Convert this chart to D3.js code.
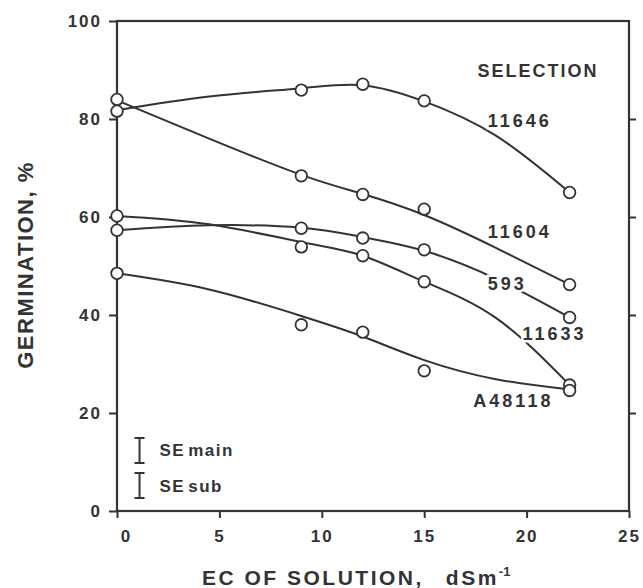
<!DOCTYPE html>
<html>
<head>
<meta charset="utf-8">
<script src="https://cdn.jsdelivr.net/npm/d3@7"></script>
<style>
  body { margin: 0; background: #fff; }
  svg { display: block; }
  text { font-family: "Liberation Sans", Arial, sans-serif; font-weight: bold; fill: #333; }
</style>
</head>
<body>
<div id="chart"></div>
<script>
// EC of solution (dS/m) at which germination was counted
const ecLevels = [0, 9, 12, 15, 22.1];

// germination % per selection (circles)
const selectionNames = ["11646", "11604", "593", "11633", "A48118"];
const germ11646 = [81.6, 85.9, 87.1, 83.7, 65.0];
const germ11604 = [84.0, 68.4, 64.6, 61.6, 46.2];
const germ593 = [57.3, 57.7, 55.7, 53.3, 39.5];
const germ11633 = [60.2, 53.9, 52.1, 46.8, 25.7];
const germA48118 = [48.5, 38.0, 36.5, 28.6, 24.6];

// smoothed response curves
const curveEc = [0, 4.5, 9, 12, 15, 18.5, 22.1];
const curve11646 = [81.8, 84.6, 86.3, 86.9, 83.6, 76.6, 65.0];
const curve11604 = [83.8, 76.0, 68.6, 64.7, 60.4, 53.7, 46.2];
const curve593 = [57.3, 58.3, 57.8, 55.9, 53.1, 47.4, 39.5];
const curve11633 = [60.2, 58.5, 54.9, 52.1, 46.8, 39.4, 25.7];
const curveA48118 = [48.5, 45.2, 39.8, 35.6, 30.8, 26.9, 24.8];

// standard errors shown as bars in the lower left
const seNames = ["main", "sub"];
const seValues = [2.55, 2.55];

const xTicks = [0, 5, 10, 15, 20, 25];
const yTicks = [0, 20, 40, 60, 80, 100];

const germValues = [germ11646, germ11604, germ593, germ11633, germA48118];
const curveValues = [curve11646, curve11604, curve593, curve11633, curveA48118];

// label anchors in data units (EC, %)
const labelPos = {
    "11646": [18.1, 78.3],
    "11604": [18.1, 55.7],
    "593": [18.1, 45.1],
    "11633": [19.8, 35.0],
    "A48118": [17.4, 21.2]
};

const width = 643, height = 588;

const svg = d3.select("#chart").append("svg")
    .attr("width", width)
    .attr("height", height);

const x = d3.scaleLinear().domain([0, 25]).range([117, 629]);
const y = d3.scaleLinear().domain([0, 100]).range([511, 21]);

const ink = "#333";

// frame
svg.append("rect")
    .attr("x", x(0)).attr("y", y(100))
    .attr("width", x(25) - x(0)).attr("height", y(0) - y(100))
    .attr("fill", "none").attr("stroke", ink).attr("stroke-width", 2.2);

// axes
const xAxis = svg.append("g")
    .attr("transform", `translate(0,${y(0)})`)
    .call(d3.axisBottom(x).tickValues(xTicks).tickSize(7).tickPadding(12));

const yAxis = svg.append("g")
    .attr("transform", `translate(${x(0)},0)`)
    .call(d3.axisLeft(y).tickValues(yTicks).tickSize(8).tickPadding(7));

const yAxisRight = svg.append("g")
    .attr("transform", `translate(${x(25)},0)`)
    .call(d3.axisRight(y).tickValues([20, 40, 60, 80]).tickSize(7).tickFormat(""));

[xAxis, yAxis, yAxisRight].forEach(g => {
    g.select(".domain").remove();
    g.selectAll(".tick line").attr("stroke", ink).attr("stroke-width", 2);
    g.selectAll(".tick text")
        .attr("fill", ink)
        .style("font-family", "'Liberation Sans', Arial, sans-serif")
        .style("font-weight", "bold")
        .style("font-size", "17px")
        .style("letter-spacing", "2px");
});
xAxis.selectAll(".tick text").filter(d => d === 0).attr("dx", 9);

// response curves and observed points
const curveGroup = svg.append("g");
const line = d3.line()
    .x(d => x(d[0]))
    .y(d => y(d[1]))
    .curve(d3.curveNatural);

curveGroup.selectAll("path")
    .data(curveValues)
    .enter()
    .append("path")
    .attr("d", vals => line(vals.map((v, j) => [curveEc[j], v])))
    .attr("fill", "none")
    .attr("stroke", ink)
    .attr("stroke-width", 2);

const pointGroup = svg.append("g");
germValues.forEach((vals, i) => {
    pointGroup.selectAll(".pt" + i)
        .data(vals.map((v, j) => [ecLevels[j], v]))
        .enter()
        .append("circle")
        .attr("class", "pt" + i)
        .attr("cx", d => x(d[0]))
        .attr("cy", d => y(d[1]))
        .attr("r", 5.8)
        .attr("fill", "#fff")
        .attr("stroke", ink)
        .attr("stroke-width", 1.8);
});

// legend / series labels
svg.append("text")
    .attr("x", x(17.6)).attr("y", y(88.6))
    .style("font-size", "18px")
    .style("letter-spacing", "2px")
    .text("SELECTION");

svg.append("g").selectAll("text")
    .data(selectionNames)
    .enter()
    .append("text")
    .attr("x", d => x(labelPos[d][0]))
    .attr("y", d => y(labelPos[d][1]))
    .attr("stroke", "#fff")
    .attr("stroke-width", 5)
    .style("paint-order", "stroke")
    .style("font-size", "18px")
    .style("letter-spacing", "3px")
    .text(d => d);

// SE bars
const seLayout = {main: [1.1, 12.35], sub: [1.1, 5.2]};
const se = svg.append("g").selectAll("g")
    .data(seNames.map((n, i) => ({name: n, se: seValues[i]})))
    .enter()
    .append("g");

se.append("path")
    .attr("d", d => {
        const cx = x(seLayout[d.name][0]);
        const top = y(seLayout[d.name][1] + d.se);
        const bot = y(seLayout[d.name][1] - d.se);
        return `M${cx-5},${top}H${cx+5}M${cx},${top}V${bot}M${cx-5},${bot}H${cx+5}`;
    })
    .attr("fill", "none")
    .attr("stroke", ink)
    .attr("stroke-width", 2);

const seText = se.append("text")
    .attr("x", d => x(seLayout[d.name][0]) + 20)
    .attr("y", d => y(seLayout[d.name][1]) + 6)
    .style("font-size", "17px")
    .style("letter-spacing", "1.5px");
seText.append("tspan").text("SE");
seText.append("tspan").attr("dx", 3).text(d => d.name);

// axis titles
const xTitle = svg.append("text")
    .attr("x", 202)
    .attr("y", 585)
    .style("font-size", "21px")
    .style("letter-spacing", "2.5px");
xTitle.append("tspan").text("EC OF SOLUTION,");
xTitle.append("tspan").attr("dx", 22).text("dSm");
xTitle.append("tspan").attr("dy", -9).style("font-size", "13px").style("letter-spacing", "0px").text("-1");

svg.append("text")
    .attr("transform", "translate(33,265) rotate(-90)")
    .attr("text-anchor", "middle")
    .style("font-size", "22px")
    .style("letter-spacing", "1.5px")
    .text("GERMINATION, %");
</script>
</body>
</html>
